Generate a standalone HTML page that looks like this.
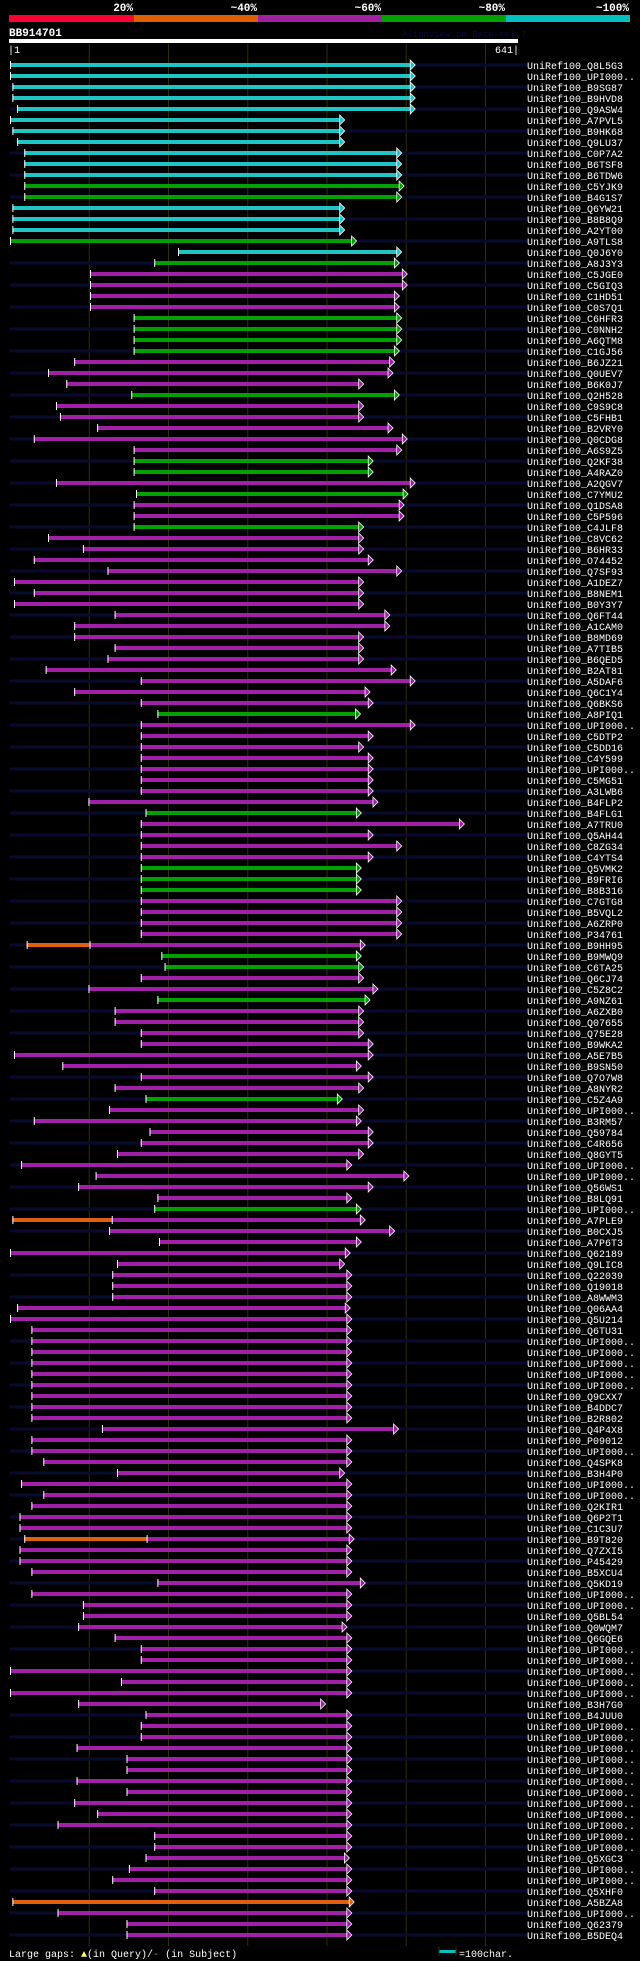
<!DOCTYPE html>
<html><head><meta charset="utf-8"><style>
html,body{margin:0;padding:0;background:#000;}
svg{display:block;}
text{font-family:"Liberation Mono",monospace;fill:#fff;}
</style></head><body>
<svg id="chart" width="640" height="1961" viewBox="0 0 640 1961" xmlns="http://www.w3.org/2000/svg">
<g>
<rect x="9" y="15" width="125" height="7" fill="#ff0030"/>
<rect x="134" y="15" width="124" height="7" fill="#e06000"/>
<rect x="258" y="15" width="124" height="7" fill="#a020a0"/>
<rect x="382" y="15" width="124" height="7" fill="#00a000"/>
<rect x="506" y="15" width="124" height="7" fill="#00c0c0"/>
<text x="133" y="11" text-anchor="end" font-size="11" font-weight="bold">20%</text>
<text x="257" y="11" text-anchor="end" font-size="11" font-weight="bold">~40%</text>
<text x="381" y="11" text-anchor="end" font-size="11" font-weight="bold">~60%</text>
<text x="505" y="11" text-anchor="end" font-size="11" font-weight="bold">~80%</text>
<text x="629" y="11" text-anchor="end" font-size="11" font-weight="bold">~100%</text>
</g>
<text x="9" y="36" font-size="11" font-weight="bold">BB914701</text>
<text x="402" y="37" font-size="9" style="fill:#0a0a40">AlignView.pm Beta rel.7</text>
<rect x="9" y="39" width="509" height="4" fill="#fff"/>
<text x="8" y="53" font-size="10">|1</text>
<text x="519" y="53" font-size="10" text-anchor="end">641|</text>
<g id="grid"></g>
<g id="rows"></g>
<g>
<text x="9" y="1957" font-size="10">Large gaps: <tspan style="fill:#ffff60">▲</tspan>(in Query)/<tspan style="fill:#00c0c0">-</tspan> (in Subject)</text>
<rect x="439" y="1950" width="17" height="3" fill="#00c0c0"/>
<line x1="439" y1="1947" x2="439" y2="1956" stroke="#333300"/>
<line x1="456" y1="1947" x2="456" y2="1956" stroke="#333300"/>
<text x="459" y="1957" font-size="10">=100char.</text>
</g>
</svg>
<script>
const names = ["Q8L5G3","UPI000..","B9SG87","B9HVD8","Q9ASW4","A7PVL5","B9HK68","Q9LU37","C0P7A2","B6TSF8","B6TDW6","C5YJK9","B4G1S7","Q6YW21","B8B8Q9","A2YT00","A9TLS8","Q0J6Y0","A8J3Y3","C5JGE0","C5GIQ3","C1HD51","C0S7Q1","C6HFR3","C0NNH2","A6QTM8","C1GJ56","B6JZ21","Q0UEV7","B6K0J7","Q2H528","C9S9C8","C5FHB1","B2VRY0","Q0CDG8","A6S9Z5","Q2KF38","A4RAZ0","A2QGV7","C7YMU2","Q1DSA8","C5P596","C4JLF8","C8VC62","B6HR33","O74452","Q7SF93","A1DEZ7","B8NEM1","B0Y3Y7","Q6FT44","A1CAM0","B8MD69","A7TIB5","B6QED5","B2AT81","A5DAF6","Q6C1Y4","Q6BKS6","A8PIQ1","UPI000..","C5DTP2","C5DD16","C4Y599","UPI000..","C5MG51","A3LWB6","B4FLP2","B4FLG1","A7TRU0","Q5AH44","C8ZG34","C4YTS4","Q5VMK2","B9FRI6","B8B316","C7GTG8","B5VQL2","A6ZRP0","P34761","B9HH95","B9MWQ9","C6TA25","Q6CJ74","C5Z8C2","A9NZ61","A6ZXB0","Q07655","Q75E28","B9WKA2","A5E7B5","B9SN50","Q7O7W8","A8NYR2","C5Z4A9","UPI000..","B3RM57","Q59784","C4R656","Q8GYT5","UPI000..","UPI000..","Q56WS1","B8LQ91","UPI000..","A7PLE9","B0CXJ5","A7P6T3","Q62189","Q9LIC8","Q22039","Q19018","A8WWM3","Q06AA4","Q5U214","Q6TU31","UPI000..","UPI000..","UPI000..","UPI000..","UPI000..","Q9CXX7","B4DDC7","B2R802","Q4P4X8","P09012","UPI000..","Q4SPK8","B3H4P0","UPI000..","UPI000..","Q2KIR1","Q6P2T1","C1C3U7","B9T820","Q7ZXI5","P45429","B5XCU4","Q5KD19","UPI000..","UPI000..","Q5BL54","Q0WQM7","Q6GQE6","UPI000..","UPI000..","UPI000..","UPI000..","UPI000..","B3H7G0","B4JUU0","UPI000..","UPI000..","UPI000..","UPI000..","UPI000..","UPI000..","UPI000..","UPI000..","UPI000..","UPI000..","UPI000..","UPI000..","Q5XGC3","UPI000..","UPI000..","Q5XHF0","A5BZA8","UPI000..","Q62379","B5DEQ4"];
const starts = [0,0,3,3,9,0,3,9,18,18,18,18,18,3,3,3,0,212,182,101,101,101,101,156,156,156,156,81,48,71,153,58,63,110,30,156,156,156,58,159,156,156,156,48,92,30,123,5,30,5,132,81,81,132,123,45,165,81,165,186,165,165,165,165,165,165,165,99,171,165,165,165,165,165,165,165,165,165,165,165,21,191,195,165,99,186,132,132,165,165,5,66,165,132,171,125,30,176,165,135,14,108,86,186,182,3,125,188,0,135,129,129,129,9,0,27,27,27,27,27,27,27,27,27,116,27,27,42,135,14,42,27,12,12,18,12,12,27,186,27,92,92,86,132,165,165,0,140,0,86,171,165,165,84,147,147,84,147,81,110,60,182,182,171,150,129,182,3,60,147,147];
const ends = [505,505,505,505,505,416,416,416,488,488,488,491,488,416,416,416,431,488,485,495,495,485,485,488,488,488,485,479,477,440,485,440,440,477,495,488,452,452,505,496,491,491,440,440,440,452,488,440,440,440,473,473,440,440,440,481,505,448,452,436,505,452,440,452,452,452,452,458,437,567,452,488,452,437,437,437,488,488,488,488,442,437,440,440,458,448,440,440,440,452,452,437,452,440,413,440,437,452,452,440,425,497,452,425,437,442,479,437,423,416,425,425,425,423,425,425,425,425,425,425,425,425,425,425,484,425,425,425,416,425,425,425,425,425,428,425,425,425,442,425,425,425,419,425,425,425,425,425,425,392,425,425,425,425,425,425,425,425,425,425,425,425,425,422,425,425,425,428,425,425,425];
const colors = ("CCCCCCCCCCC"+"GG"+"CCC"+"G"+"C"+"G"+"PPPP"+"GGGG"+"PPP"+"G"+"PPPPP"+"GG"+"P"+"G"+"PP"+"G"+"PPPPPPPPPPPPPPPP"+"G"+"PPPPPPPP"+"G"+"PPPP"+"GGG"+"PPPPP"+"GG"+"PP"+"G"+"PPPPPPPP"+"G"+"PPPPPPPPP"+"G"+"PPPPPPPPPPPPPPPPPPPPPPPPPPPPPPPPPPPPPPPPPPPPPPPPPPPPPPPPPPPPPPPPPP").split("");
const orangeRows = [80,105,134];
const orangeEnds = [101,129,173];
const fullOrangeRows = [167];

const palette = {C:"#20c4c4",G:"#00a000",P:"#a020a8",O:"#e06010"};
const xOf = r => 10 + r * 0.7925;
const yOf = i => 65 + i * 11;
const NS = "http://www.w3.org/2000/svg";
function mk(tag, attrs, parent){const e=document.createElementNS(NS,tag);for(const k in attrs)e.setAttribute(k,attrs[k]);parent.appendChild(e);return e;}

const grid = document.getElementById('grid');
for (let k=1;k<=6;k++){
  const l = mk('line',{x1:xOf(k*100),x2:xOf(k*100),y1:44,y2:1946,stroke:'#2e2e08','stroke-width':1},grid);
  
  
}
const rows = document.getElementById('rows');
names.forEach((n,i)=>{
  const y = yOf(i);
  const g = mk('g',{},rows);
  
  
  if (i % 2 === 0) mk('rect',{x:10,y:y-1.5,width:517,height:3,fill:'#0a0a30'},g);
  const s = xOf(starts[i]), e = xOf(ends[i]);
  let col = palette[colors[i]] || palette.P;
  if (fullOrangeRows.indexOf(i) >= 0) col = palette.O;
  const bar = mk('rect',{x:s,y:y-2,width:e-s,height:4,fill:col},g);
  
  
  const oi = orangeRows.indexOf(i);
  if (oi >= 0) {
    const oe = xOf(orangeEnds[oi]);
    mk('rect',{x:s,y:y-2,width:oe-s,height:4,fill:palette.O},g);
    mk('line',{x1:oe,x2:oe,y1:y-4,y2:y+4,stroke:'#fff','stroke-width':1},g);
  }
  mk('line',{x1:s+0.5,x2:s+0.5,y1:y-4,y2:y+4,stroke:'#fff','stroke-width':1},g);
  mk('polygon',{points:`${e},${y-5} ${e+5},${y} ${e},${y+5}`,fill:col,stroke:'#fff','stroke-width':0.8},g);
  const t = mk('text',{x:527,y:y+4,'font-size':10},g);
  t.textContent = 'UniRef100_' + n;
  
  
});
</script>
</body></html>
